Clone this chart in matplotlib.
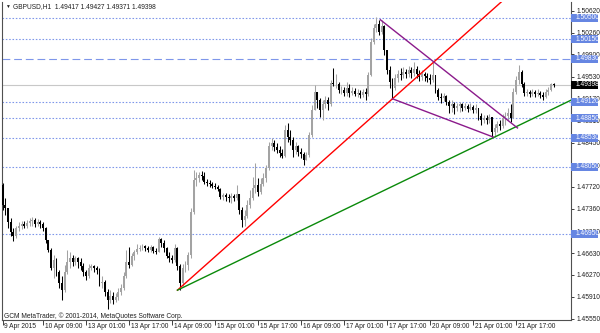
import numpy as np
import matplotlib.pyplot as plt
import matplotlib.transforms as mtransforms
from matplotlib.patches import Rectangle

plt.rcParams['font.family'] = ['Liberation Sans', 'DejaVu Sans']

# GBPUSD H1 candles, 9 Apr 18:00 .. 21 Apr 23:00 (one bar per hour)
first_open = 1.4775
close = [
    1.4742, 1.4737, 1.4714, 1.4698, 1.4691, 1.4704, 1.4708, 1.4711, 1.4708, 1.4713,
    1.4716, 1.4718, 1.4711, 1.4714, 1.4711, 1.4704, 1.4685, 1.4668, 1.4639, 1.4652,
    1.4632, 1.4614, 1.4602, 1.4632, 1.4648, 1.4655, 1.4648, 1.4655, 1.4648, 1.4642,
    1.4632, 1.4625, 1.4639, 1.4642, 1.4639, 1.4635, 1.4614, 1.4615, 1.4599, 1.4586,
    1.4592, 1.4586, 1.4591, 1.4599, 1.4606, 1.4625, 1.4648, 1.4643, 1.4658, 1.4665,
    1.4670, 1.4671, 1.4675, 1.4671, 1.4668, 1.4673, 1.4666, 1.4665, 1.4686, 1.4680,
    1.4671, 1.4658, 1.4655, 1.4652, 1.4671, 1.4642, 1.4614, 1.4639, 1.4643, 1.4660,
    1.4731, 1.4783, 1.4787, 1.4792, 1.4790, 1.4780, 1.4778, 1.4777, 1.4773, 1.4772,
    1.4769, 1.4755, 1.4759, 1.4755, 1.4754, 1.4757, 1.4754, 1.4760, 1.4734, 1.4718,
    1.4724, 1.4742, 1.4754, 1.4770, 1.4775, 1.4764, 1.4777, 1.4787, 1.4803, 1.4839,
    1.4844, 1.4838, 1.4833, 1.4828, 1.4823, 1.4866, 1.4854, 1.4849, 1.4833, 1.4839,
    1.4829, 1.4826, 1.4816, 1.4824, 1.4857, 1.4899, 1.4928, 1.4915, 1.4899, 1.4908,
    1.4915, 1.4908, 1.4943, 1.4941, 1.4941, 1.4931, 1.4931, 1.4927, 1.4935, 1.4927,
    1.4930, 1.4925, 1.4927, 1.4923, 1.4928, 1.4925, 1.4956, 1.5011, 1.5034, 1.5040,
    1.5027, 1.5037, 1.4997, 1.4964, 1.4945, 1.4935, 1.4951, 1.4958, 1.4956, 1.4961,
    1.4958, 1.4964, 1.4959, 1.4966, 1.4958, 1.4953, 1.4958, 1.4955, 1.4951, 1.4948,
    1.4956, 1.4931, 1.4920, 1.4918, 1.4922, 1.4912, 1.4905, 1.4908, 1.4902, 1.4905,
    1.4908, 1.4902, 1.4905, 1.4900, 1.4903, 1.4899, 1.4902, 1.4889, 1.4882, 1.4885,
    1.4882, 1.4887, 1.4862, 1.4869, 1.4876, 1.4872, 1.4885, 1.4889, 1.4894, 1.4885,
    1.4928, 1.4948, 1.4961, 1.4941, 1.4927, 1.4928, 1.4925, 1.4928, 1.4925, 1.4927,
    1.4923, 1.4920, 1.4928, 1.4931, 1.4942, 1.49398,
]
high = [
    1.4778, 1.4754, 1.4734, 1.4721, 1.4704, 1.4708, 1.4714, 1.4716, 1.4716, 1.4718,
    1.4721, 1.4722, 1.4721, 1.4719, 1.4718, 1.4714, 1.4706, 1.4685, 1.4671, 1.4660,
    1.4655, 1.4635, 1.4625, 1.4643, 1.4668, 1.4665, 1.4660, 1.4658, 1.4657, 1.4655,
    1.4647, 1.4635, 1.4645, 1.4645, 1.4643, 1.4642, 1.4639, 1.4625, 1.4619, 1.4604,
    1.4602, 1.4599, 1.4597, 1.4606, 1.4612, 1.4632, 1.4668, 1.4673, 1.4663, 1.4668,
    1.4678, 1.4676, 1.4678, 1.4676, 1.4675, 1.4676, 1.4675, 1.4671, 1.4690, 1.4688,
    1.4685, 1.4673, 1.4665, 1.4660, 1.4678, 1.4673, 1.4645, 1.4645, 1.4650, 1.4665,
    1.4737, 1.4800, 1.4797, 1.4797, 1.4798, 1.4797, 1.4785, 1.4783, 1.4780, 1.4778,
    1.4775, 1.4770, 1.4762, 1.4762, 1.4760, 1.4762, 1.4760, 1.4775, 1.4760, 1.4739,
    1.4734, 1.4750, 1.4767, 1.4788, 1.4811, 1.4787, 1.4787, 1.4795, 1.4808, 1.4846,
    1.4852, 1.4849, 1.4844, 1.4839, 1.4834, 1.4874, 1.4877, 1.4866, 1.4854, 1.4846,
    1.4841, 1.4836, 1.4829, 1.4829, 1.4862, 1.4907, 1.4940, 1.4928, 1.4918, 1.4915,
    1.4922, 1.4920, 1.4948, 1.4968, 1.4958, 1.4945, 1.4938, 1.4936, 1.4945, 1.4941,
    1.4936, 1.4935, 1.4933, 1.4931, 1.4933, 1.4935, 1.4961, 1.5017, 1.5040, 1.5052,
    1.5047, 1.5047, 1.5038, 1.4997, 1.4971, 1.4951, 1.4958, 1.4964, 1.4968, 1.4969,
    1.4966, 1.4971, 1.4969, 1.4978, 1.4971, 1.4964, 1.4964, 1.4961, 1.4959, 1.4958,
    1.4978, 1.4956, 1.4935, 1.4927, 1.4927, 1.4923, 1.4915, 1.4915, 1.4912, 1.4910,
    1.4912, 1.4910, 1.4910, 1.4908, 1.4910, 1.4907, 1.4908, 1.4902, 1.4894, 1.4890,
    1.4890, 1.4892, 1.4887, 1.4876, 1.4880, 1.4882, 1.4892, 1.4895, 1.4902, 1.4908,
    1.4935, 1.4955, 1.4973, 1.4964, 1.4945, 1.4933, 1.4931, 1.4933, 1.4931, 1.4933,
    1.4930, 1.4928, 1.4933, 1.4936, 1.4943, 1.49427,
]
low = [
    1.4734, 1.4726, 1.4704, 1.4691, 1.4683, 1.4688, 1.4699, 1.4703, 1.4704, 1.4704,
    1.4708, 1.4708, 1.4706, 1.4708, 1.4704, 1.4699, 1.4680, 1.4665, 1.4635, 1.4622,
    1.4625, 1.4606, 1.4586, 1.4599, 1.4629, 1.4639, 1.4642, 1.4643, 1.4639, 1.4635,
    1.4625, 1.4619, 1.4622, 1.4635, 1.4632, 1.4629, 1.4609, 1.4606, 1.4592, 1.4571,
    1.4581, 1.4579, 1.4583, 1.4586, 1.4594, 1.4602, 1.4622, 1.4639, 1.4642, 1.4652,
    1.4662, 1.4666, 1.4668, 1.4666, 1.4665, 1.4665, 1.4663, 1.4662, 1.4665, 1.4673,
    1.4665, 1.4655, 1.4648, 1.4647, 1.4648, 1.4635, 1.4602, 1.4609, 1.4632, 1.4635,
    1.4655, 1.4727, 1.4773, 1.4780, 1.4783, 1.4777, 1.4773, 1.4772, 1.4770, 1.4769,
    1.4765, 1.4752, 1.4750, 1.4749, 1.4747, 1.4745, 1.4749, 1.4750, 1.4727, 1.4706,
    1.4708, 1.4721, 1.4737, 1.4750, 1.4762, 1.4757, 1.4760, 1.4773, 1.4780, 1.4800,
    1.4833, 1.4831, 1.4828, 1.4821, 1.4820, 1.4821, 1.4846, 1.4841, 1.4821, 1.4826,
    1.4823, 1.4820, 1.4808, 1.4816, 1.4821, 1.4854, 1.4899, 1.4902, 1.4887, 1.4882,
    1.4902, 1.4899, 1.4905, 1.4938, 1.4935, 1.4927, 1.4925, 1.4922, 1.4922, 1.4920,
    1.4923, 1.4922, 1.4920, 1.4918, 1.4920, 1.4915, 1.4922, 1.4955, 1.5007, 1.5027,
    1.5022, 1.5024, 1.4989, 1.4958, 1.4935, 1.4917, 1.4931, 1.4945, 1.4948, 1.4951,
    1.4951, 1.4953, 1.4951, 1.4955, 1.4951, 1.4946, 1.4948, 1.4946, 1.4945, 1.4941,
    1.4945, 1.4927, 1.4915, 1.4910, 1.4913, 1.4907, 1.4894, 1.4895, 1.4892, 1.4897,
    1.4895, 1.4897, 1.4899, 1.4895, 1.4899, 1.4894, 1.4894, 1.4882, 1.4874, 1.4877,
    1.4876, 1.4877, 1.4854, 1.4854, 1.4862, 1.4866, 1.4869, 1.4874, 1.4882, 1.4879,
    1.4885, 1.4925, 1.4941, 1.4936, 1.4922, 1.4922, 1.4920, 1.4922, 1.4920, 1.4922,
    1.4918, 1.4915, 1.4918, 1.4923, 1.4930, 1.49371,
]

# time axis labels (bar index, text)
date_pos = [0, 15, 31, 47, 63, 79, 95, 111, 127, 143, 159, 175, 191]
date_labels = ['9 Apr 2015', '10 Apr 09:00', '13 Apr 01:00', '13 Apr 17:00', '14 Apr 09:00',
               '15 Apr 01:00', '15 Apr 17:00', '16 Apr 09:00', '17 Apr 01:00', '17 Apr 17:00',
               '20 Apr 09:00', '21 Apr 01:00', '21 Apr 17:00']

price_ticks = [1.4555, 1.4591, 1.4627, 1.4663, 1.4699, 1.4736, 1.4772, 1.4808,
               1.4845, 1.4881, 1.4917, 1.4953, 1.4990, 1.5026, 1.5062]

# horizontal levels
dotted_levels = [1.5050, 1.5015, 1.4912, 1.4885, 1.4853, 1.4805, 1.4695]
dashed_level = 1.4983
last_price = 1.49398

# trend lines: (bar index pair, price pair)
red_x, red_y = [65, 145], [1.4602, 1.4917]
green_x, green_y = [65, 183], [1.4602, 1.4854]
purple_up_x, purple_up_y = [140.5, 191.5], [1.5047, 1.4869]
purple_lo_x, purple_lo_y = [145, 182.5], [1.4917, 1.4854]

level_color = '#7e96ea'
box_color = '#6686e2'
fs = 4.8

fig = plt.figure(figsize=(6, 3.33), dpi=100)
ax = fig.add_axes([1.5 / 600, 13 / 333, 570 / 600, 318.5 / 333])
ymin, ymax = 1.45529, 1.50771
xmin, xmax = -0.45, 211.6

# candles
x = np.arange(len(close))
c = np.array(close)
o = np.array([first_open] + close[:-1])
h = np.maximum.reduce([np.array(high), o, c])
l = np.minimum.reduce([np.array(low), o, c])
up = c >= o
cols = np.where(up, '#a3a3a3', '#000000')
ax.vlines(x, l, h, colors=cols, lw=0.75, zorder=3)
body_b = np.minimum(o, c)
body_h = np.maximum(np.abs(c - o), 0.00004)
ax.bar(x, body_h, bottom=body_b, width=0.72, color=cols, linewidth=0, zorder=3)

# level lines
for lv in dotted_levels:
    ax.axhline(lv, color=level_color, lw=0.8, linestyle=(0, (1.4, 1.6)), zorder=2)
ax.axhline(dashed_level, color=level_color, lw=0.8, linestyle=(0, (7, 3.5)), zorder=2)
ax.axhline(last_price, color='#c8c8c8', lw=0.8, zorder=1)


def ray(xs, ys, x_end):
    k = (ys[1] - ys[0]) / (xs[1] - xs[0])
    return [xs[0], x_end], [ys[0], ys[0] + k * (x_end - xs[0])]


rx, ry = ray(red_x, red_y, xmax)
ax.plot(rx, ry, color='#ff0000', lw=1.0, zorder=4)
gx, gy = ray(green_x, green_y, xmax)
ax.plot(gx, gy, color='#0a8a0a', lw=1.0, zorder=4)
ax.plot(purple_up_x, purple_up_y, color='#8b1a8b', lw=1.0, zorder=4)
ax.plot(purple_lo_x, purple_lo_y, color='#8b1a8b', lw=1.0, zorder=4)

ax.set_xlim(xmin, xmax)
ax.set_ylim(ymin, ymax)

# axes styling
for side in ['left', 'right', 'bottom']:
    ax.spines[side].set_color('#505050')
    ax.spines[side].set_linewidth(0.8)
ax.spines['top'].set_visible(False)

ax.yaxis.tick_right()
ax.set_yticks(price_ticks)
ax.set_yticklabels([f'{v:.5f}' for v in price_ticks])
ax.tick_params(axis='y', direction='out', length=2.5, width=0.6, pad=1.3,
               labelsize=fs, colors='#202020')

ax.set_xticks(date_pos)
ax.set_xticklabels(date_labels, ha='left')
ax.tick_params(axis='x', direction='out', length=3.5, width=0.6, pad=-1,
               labelsize=fs, colors='#202020')
shift = mtransforms.ScaledTranslation(1.5 / 100, 0, fig.dpi_scale_trans)
for lab in ax.get_xticklabels():
    lab.set_transform(lab.get_transform() + shift)

# price boxes on right scale, drawn at figure level so they sit over the tick labels
trans = mtransforms.blended_transform_factory(ax.transAxes, ax.transData)
box_h = 8 / 318.5 * (ymax - ymin)
box_w = 27 / 570
boxes = [(v, box_color) for v in dotted_levels] + [(dashed_level, box_color), (last_price, '#000000')]
for lv, fc in boxes:
    fig.add_artist(Rectangle((1.0, lv - box_h / 2), box_w, box_h, transform=trans,
                             facecolor=fc, edgecolor='none', zorder=6))
    fig.text(1.0 + 4.5 / 570, lv, f'{lv:.5f}', transform=trans, color='white',
             fontsize=fs, va='center', ha='left', zorder=7)

# header and copyright
ax.text(4 / 570, 1 - 5 / 318.5, '\u25bc', transform=ax.transAxes, fontsize=3.5,
        va='center', ha='left', color='#202020')
ax.text(12 / 570, 1 - 5.5 / 318.5, 'GBPUSD,H1  1.49417 1.49427 1.49371 1.49398',
        transform=ax.transAxes, fontsize=fs, va='center', ha='left', color='#202020')
ax.text(3 / 570, 3.5 / 318.5, 'GCM MetaTrader, \u00a9 2001-2014, MetaQuotes Software Corp.',
        transform=ax.transAxes, fontsize=fs, va='center', ha='left', color='#202020')

fig.savefig('out.png', dpi=100)
